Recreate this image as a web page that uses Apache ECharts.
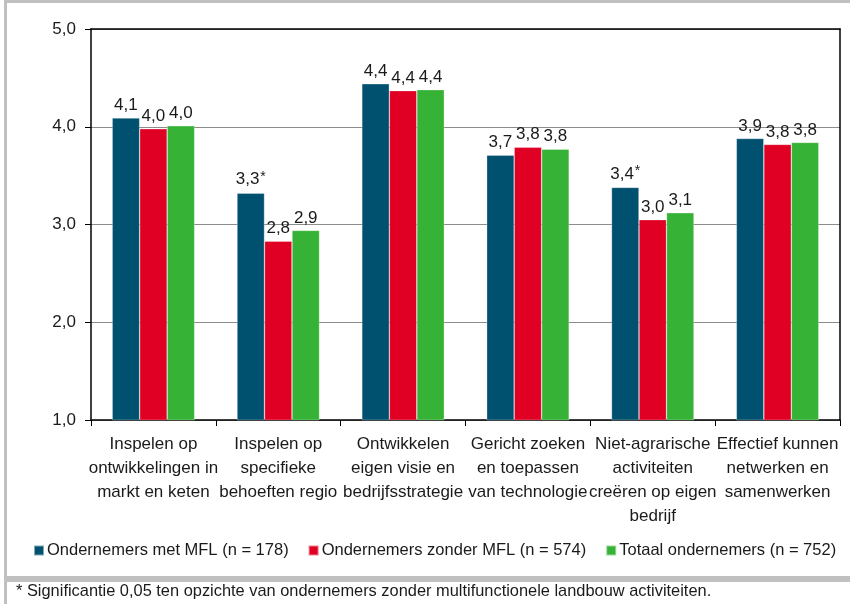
<!DOCTYPE html>
<html>
<head>
<meta charset="utf-8">
<script src="https://cdn.jsdelivr.net/npm/echarts@6/dist/echarts.min.js"></script>
<style>
  html, body { margin: 0; padding: 0; background: #fff; }
  #chart { width: 850px; height: 604px; }
</style>
</head>
<body>
<div id="chart"></div>
<script>
// Competence categories (line breaks as they appear under the axis)
const categories = [
  'Inspelen op\nontwikkelingen in\nmarkt en keten',
  'Inspelen op\nspecifieke\nbehoeften regio',
  'Ontwikkelen\neigen visie en\nbedrijfsstrategie',
  'Gericht zoeken\nen toepassen\nvan technologie',
  'Niet-agrarische\nactiviteiten\ncreëren op eigen\nbedrijf',
  'Effectief kunnen\nnetwerken en\nsamenwerken'
];

// Mean scores per group
const metMFL    = [4.09, 3.32, 4.44, 3.71, 3.38, 3.88];
const zonderMFL = [3.98, 2.83, 4.37, 3.79, 3.05, 3.82];
const totaal    = [4.01, 2.94, 4.38, 3.77, 3.12, 3.84];

// Significant difference (p < 0,05) versus the group without MFL
const significant = [false, true, false, false, true, false];

const seriesNames = [
  'Ondernemers met MFL (n = 178)',
  'Ondernemers zonder MFL (n = 574)',
  'Totaal ondernemers (n = 752)'
];

const yTicks = [1, 2, 3, 4, 5];

const FONT = '"Liberation Sans", Arial, sans-serif';
const TEXT = '#1a1a1a';
const fmt = v => v.toFixed(1).replace('.', ',');

function labelFor(markSig) {
  return {
    show: true,
    position: 'top',
    distance: 4,
    fontFamily: FONT,
    fontSize: 17,
    color: TEXT,
    formatter: p => {
      const txt = fmt(p.value);
      return markSig && significant[p.dataIndex] ? '{v|' + txt + '}{s|*}' : txt;
    },
    rich: {
      v: { fontFamily: FONT, fontSize: 17, color: TEXT },
      s: { fontFamily: FONT, fontSize: 14, color: TEXT, verticalAlign: 'top', padding: [0, 0, 5, 1] }
    }
  };
}

const chart = echarts.init(document.getElementById('chart'), null, { renderer: 'canvas' });

chart.setOption({
  animation: false,
  color: ['#00506f', '#e00024', '#36b336'],
  textStyle: { fontFamily: FONT },
  grid: { left: 91, right: 10, top: 29, bottom: 184, containLabel: false },
  graphic: [
    {
      type: 'rect', silent: true,
      shape: { x: 5.5, y: 1.5, width: 860, height: 576 },
      style: { fill: null, stroke: '#c0c0c0', lineWidth: 3 }
    },
    {
      type: 'rect', silent: true,
      shape: { x: 5.5, y: 580.5, width: 860, height: 40 },
      style: { fill: null, stroke: '#c0c0c0', lineWidth: 3 }
    },
    {
      type: 'text', silent: true,
      left: 16, top: 583,
      style: {
        text: '* Significantie 0,05 ten opzichte van ondernemers zonder multifunctionele landbouw activiteiten.',
        font: '16.4px ' + FONT, fill: TEXT
      }
    }
  ],
  legend: {
    data: seriesNames,
    left: 28, top: 537,
    icon: 'rect', itemWidth: 10, itemHeight: 10, itemGap: 19,
    textStyle: { fontFamily: FONT, fontSize: 16.5, color: TEXT, padding: [0, 0, 0, -2] }
  },
  xAxis: [
    {
      type: 'category', data: categories, position: 'bottom',
      axisLine: { show: true, lineStyle: { color: '#000', width: 1.5 } },
      axisTick: { show: true, alignWithLabel: false, length: 6, inside: false, lineStyle: { color: '#000' } },
      axisLabel: {
        interval: 0, margin: 12, fontFamily: FONT, fontSize: 17, lineHeight: 24, color: TEXT, align: 'center'
      }
    },
    {
      type: 'category', data: categories, position: 'top',
      axisLine: { show: true, lineStyle: { color: '#000', width: 1.5 } },
      axisTick: { show: false }, axisLabel: { show: false }
    }
  ],
  yAxis: [
    {
      type: 'value', min: yTicks[0], max: yTicks[yTicks.length - 1], interval: 1,
      axisLine: { show: true, lineStyle: { color: '#000', width: 1.5 } },
      axisTick: { show: true, length: 6, lineStyle: { color: '#000' } },
      axisLabel: { margin: 15, fontFamily: FONT, fontSize: 17, color: TEXT, formatter: v => fmt(v) },
      splitLine: { show: true, lineStyle: { color: '#8c8c8c', width: 1.2 } }
    },
    {
      type: 'value', min: yTicks[0], max: yTicks[yTicks.length - 1], interval: 1, position: 'right',
      axisLine: { show: true, lineStyle: { color: '#000', width: 1.5 } },
      axisTick: { show: false }, axisLabel: { show: false }, splitLine: { show: false }
    }
  ],
  series: [
    {
      name: seriesNames[0], type: 'bar', data: metMFL,
      barWidth: 27.5, barGap: '0%',
      itemStyle: { borderColor: 'rgba(255,255,255,0.5)', borderWidth: 0.6 },
      label: labelFor(true)
    },
    {
      name: seriesNames[1], type: 'bar', data: zonderMFL,
      barWidth: 27.5, barGap: '0%',
      itemStyle: { borderColor: 'rgba(255,255,255,0.5)', borderWidth: 0.6 },
      label: labelFor(false)
    },
    {
      name: seriesNames[2], type: 'bar', data: totaal,
      barWidth: 27.5, barGap: '0%',
      itemStyle: { borderColor: 'rgba(255,255,255,0.5)', borderWidth: 0.6 },
      label: labelFor(false)
    }
  ]
});
</script>
</body>
</html>
